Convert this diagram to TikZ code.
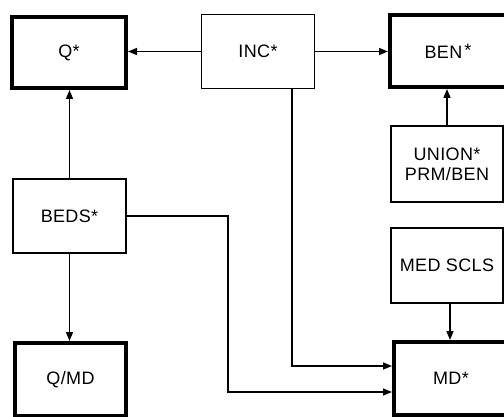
\documentclass[tikz,border=0pt]{standalone}
\usepackage{fontspec}
\setmainfont[LetterSpace=2]{Liberation Sans}
\usetikzlibrary{arrows.meta}
\begin{document}
\begin{tikzpicture}[x=1pt,y=-1pt,
  thinbox/.style={draw, line width=1.5pt, inner sep=0pt, align=center,
    font=\fontsize{18}{20}\selectfont},
  thickbox/.style={draw, line width=4pt, inner sep=0pt, align=center,
    font=\fontsize{18}{20}\selectfont},
  arr/.style={line width=1.5pt, -{Triangle[length=9pt,width=7pt]}}]
\useasboundingbox (0,0) rectangle (504,417);
\clip (0,0) rectangle (504,417);
\fill[white] (0,0) rectangle (504,417);
\node[thickbox, minimum width=114pt, minimum height=71pt] (q) at (69,52.5) {Q*};
\node[thinbox, minimum width=113pt, minimum height=74pt] (inc) at (258,51.5) {INC*};
\node[thickbox, minimum width=116pt, minimum height=72pt] (ben) at (448,51) {BEN\hspace{2pt}\raisebox{2pt}{*}};
\node[thinbox, minimum width=112pt, minimum height=76pt] (union) at (447,164) {UNION*\\PRM/BEN};
\node[thinbox, minimum width=113pt, minimum height=74pt] (beds) at (69.5,216) {BEDS*};
\node[thinbox, minimum width=112pt, minimum height=75pt] (med) at (447,265.5) {MED SCLS};
\node[thickbox, minimum width=111pt, minimum height=73pt] (qmd) at (70.5,379.5) {Q/MD};
\node[thickbox, minimum width=114pt, minimum height=73pt] (md) at (451,378.5) {MD*};
\coordinate (bend) at (228,216);
\draw[arr] (inc.west) -- (inc.west -| q.east);
\draw[arr] (inc.east) -- (inc.east -| ben.west);
\draw[arr] (beds.north) -- (beds.north |- q.south);
\draw[arr] (union.north) -- (union.north |- ben.south);
\draw[arr] (beds.south) -- (beds.south |- qmd.north);
\draw[arr] ([xshift=3pt]med.south) -- ([xshift=3pt]med.south |- md.north);
\draw[arr] ([xshift=34pt]inc.south) |- ([yshift=12.5pt]md.west);
\draw[arr] (beds.east) -- (bend) |- ([yshift=-13.5pt]md.west);
\end{tikzpicture}
\end{document}
